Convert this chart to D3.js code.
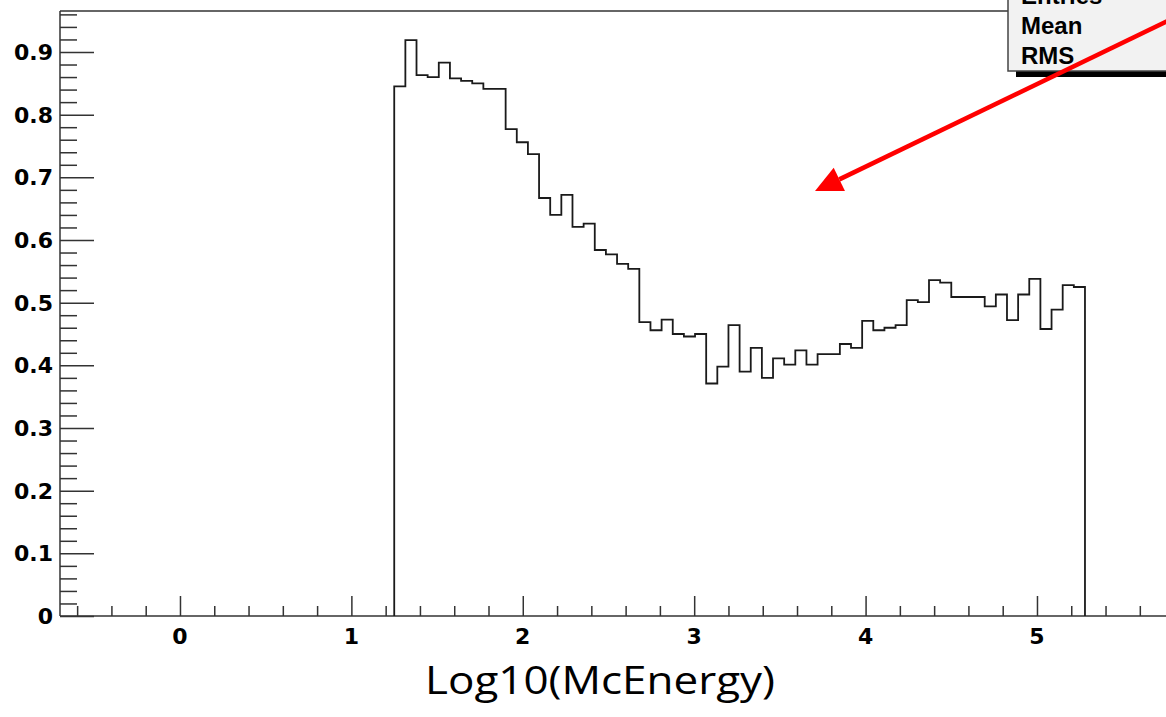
<!DOCTYPE html>
<html>
<head>
<meta charset="utf-8">
<script src="https://cdn.jsdelivr.net/npm/d3@7"></script>
<style>
  body { margin: 0; background: #fff; }
  svg { display: block; }
  .tick-label { font-family: "DejaVu Sans", sans-serif; font-weight: bold; font-size: 22px; fill: #000; }
  .stat { font-family: "Liberation Sans", Arial, sans-serif; font-weight: bold; font-size: 24px; fill: #000; }
</style>
</head>
<body>
<script>
// histogram: 62 bins starting at 1.25, width 0.065
const binStart = 1.25
const binWidth = 0.065
const binValues = [
  0.845, 0.919, 0.863, 0.860, 0.883, 0.858, 0.854, 0.850, 0.841, 0.841,
  0.777, 0.756, 0.737, 0.667, 0.640, 0.672, 0.621, 0.626, 0.584, 0.577,
  0.562, 0.554, 0.469, 0.456, 0.473, 0.450, 0.446, 0.450, 0.371, 0.398,
  0.464, 0.390, 0.428, 0.380, 0.411, 0.401, 0.424, 0.401, 0.418, 0.418,
  0.434, 0.428, 0.471, 0.456, 0.460, 0.464, 0.504, 0.501, 0.536, 0.532,
  0.509, 0.509, 0.509, 0.494, 0.513, 0.472, 0.513, 0.538, 0.458, 0.489,
  0.528, 0.525
]
const xTicks = [0, 1, 2, 3, 4, 5]
const yTicks = [0, 0.1, 0.2, 0.3, 0.4, 0.5, 0.6, 0.7, 0.8, 0.9]
const statLabels = ["Entries", "Mean", "RMS"]
const xTitle = "Log10(McEnergy)"

const w = 1166
const h = 717
const padLeft = 60
const padTop = 11
const padBottom = 616

const svg = d3.select("body")
  .append("svg")
  .attr("width", w)
  .attr("height", h)

const xScale = d3.scaleLinear()
  .domain([-0.7, 5.8])
  .range([padLeft, padLeft + 6.5 * 171.4])

const yScale = d3.scaleLinear()
  .domain([0, 0.9654])
  .range([padBottom, padTop])

// frame
svg.append("line")
  .attr("x1", padLeft).attr("x2", w + 20)
  .attr("y1", padTop).attr("y2", padTop)
  .attr("stroke", "#333").attr("stroke-width", 1.5)

// x axis ticks (inside, pointing up)
const xMinor = d3.range(-6, 58, 2).map(d => d / 10)
const xAxis = d3.axisBottom(xScale).tickValues(xMinor).tickSize(0).tickFormat("")
const gx = svg.append("g")
  .attr("transform", "translate(0," + padBottom + ")")
  .call(xAxis)
gx.select(".domain").remove()
gx.selectAll(".tick line")
  .attr("y2", d => xTicks.includes(Math.round(d * 10) / 10) ? -20 : -10)
  .attr("stroke", "#333").attr("stroke-width", 1.5)

svg.append("line")
  .attr("x1", padLeft).attr("x2", w + 20)
  .attr("y1", padBottom).attr("y2", padBottom)
  .attr("stroke", "#333").attr("stroke-width", 1.5)

svg.selectAll(".xlab")
  .data(xTicks)
  .enter()
  .append("text")
  .attr("class", "tick-label")
  .attr("x", d => xScale(d))
  .attr("y", 644)
  .attr("text-anchor", "middle")
  .text(d => d)

// y axis ticks (inside, pointing right)
const yMinor = d3.range(0, 97, 2).map(d => d / 100)
const yAxis = d3.axisLeft(yScale).tickValues(yMinor).tickSize(0).tickFormat("")
const gy = svg.append("g")
  .attr("transform", "translate(" + padLeft + ",0)")
  .call(yAxis)
gy.select(".domain").remove()
gy.selectAll(".tick line")
  .attr("x2", d => Math.round(d * 100) % 10 === 0 ? 34 : 17)
  .attr("stroke", "#333").attr("stroke-width", 1.5)

svg.append("line")
  .attr("x1", padLeft).attr("x2", padLeft)
  .attr("y1", padTop).attr("y2", padBottom)
  .attr("stroke", "#333").attr("stroke-width", 1.5)

svg.selectAll(".ylab")
  .data(yTicks)
  .enter()
  .append("text")
  .attr("class", "tick-label")
  .attr("x", 53)
  .attr("y", d => yScale(d) + 8)
  .attr("text-anchor", "end")
  .text(d => d === 0 ? "0" : d3.format(".1f")(d))

// histogram outline
let pts = [[binStart, 0]]
binValues.forEach((v, i) => {
  pts.push([binStart + i * binWidth, v])
  pts.push([binStart + (i + 1) * binWidth, v])
})
pts.push([binStart + binValues.length * binWidth, 0])

svg.append("path")
  .datum(pts)
  .attr("fill", "none")
  .attr("stroke", "#1a1a1a")
  .attr("stroke-width", 1.8)
  .attr("d", d3.line().x(d => xScale(d[0])).y(d => yScale(d[1])))

// stats box
svg.append("rect")
  .attr("x", 1016).attr("y", 66)
  .attr("width", 200).attr("height", 11)
  .attr("fill", "#000")
svg.append("rect")
  .attr("x", 1008).attr("y", -30)
  .attr("width", 200).attr("height", 101)
  .attr("fill", "#f2f2f2")
  .attr("stroke", "#444").attr("stroke-width", 1.5)

svg.selectAll(".stat")
  .data(statLabels)
  .enter()
  .append("text")
  .attr("class", "stat")
  .attr("x", 1021)
  .attr("y", (d, i) => 4 + i * 30)
  .text(d => d)

// red arrow
const tail = [5.86, 0.9623]
const tip = [3.705, 0.678]
const tx = xScale(tail[0]), ty = yScale(tail[1])
const px = xScale(tip[0]), py = yScale(tip[1])
const ang = Math.atan2(py - ty, px - tx)
const headLen = 27, headHalf = 13
const bx = px - headLen * Math.cos(ang), by = py - headLen * Math.sin(ang)

svg.append("line")
  .attr("x1", tx).attr("y1", ty)
  .attr("x2", bx).attr("y2", by)
  .attr("stroke", "#ff0000")
  .attr("stroke-width", 4.5)

svg.append("polygon")
  .attr("points", [
    [px, py],
    [bx + headHalf * Math.sin(ang), by - headHalf * Math.cos(ang)],
    [bx - headHalf * Math.sin(ang), by + headHalf * Math.cos(ang)]
  ].map(p => p.join(",")).join(" "))
  .attr("fill", "#ff0000")

// x title
svg.append("text")
  .attr("x", 600)
  .attr("y", 694)
  .attr("text-anchor", "middle")
  .attr("textLength", 350)
  .attr("lengthAdjust", "spacingAndGlyphs")
  .style("font-family", "'Comic Sans MS', 'Open Sans', sans-serif")
  .style("font-size", "38px")
  .style("fill", "#000")
  .text(xTitle)
</script>
</body>
</html>
